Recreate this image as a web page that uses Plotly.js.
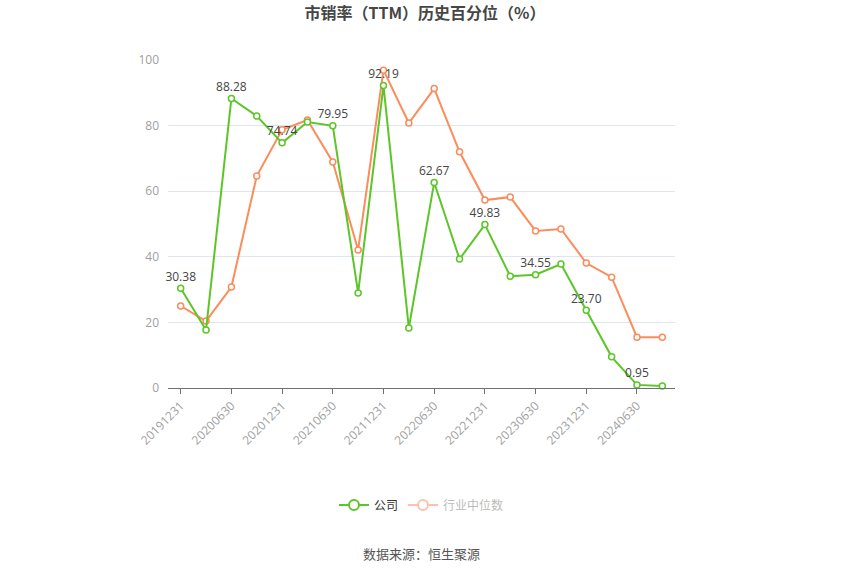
<!DOCTYPE html>
<html>
<head>
<meta charset="utf-8">
<script src="https://cdn.plot.ly/plotly-3.0.1.min.js"></script>
<style>html,body{margin:0;padding:0;background:#fff;}#chart{width:850px;height:575px;}</style>
</head>
<body>
<div id="chart"></div>
<script>
const categories = ["20191231","20200331","20200630","20200930","20201231","20210331","20210630","20210930","20211231","20220331","20220630","20220930","20221231","20230331","20230630","20230930","20231231","20240331","20240630","20240930"];
const companyValues = [30.38,17.7,88.28,82.9,74.74,81.1,79.95,29.0,92.19,18.3,62.67,39.3,49.83,34.1,34.55,37.8,23.70,9.5,0.95,0.6];
const industryValues = [25.0,20.4,30.8,64.6,78.7,81.7,68.9,42.1,96.9,80.8,91.3,72.0,57.3,58.2,47.9,48.5,38.1,33.8,15.5,15.5];
const labelIndexes = [0,2,4,6,8,10,12,14,16,18];
const tickLabels = labelIndexes.map(i => categories[i]);
const seriesNames = ["公司","行业中位数"];
const titleText = "市销率（TTM）历史百分位（%）";
const sourceText = "数据来源：恒生聚源";

const green = "#5cc628";
const orange = "#fb8c5c";
const font = "'Noto Sans CJK SC', 'Noto Sans', sans-serif";
const numFont = "'Open Sans', 'Noto Sans CJK SC', sans-serif";

const companyText = companyValues.map((v,i) => labelIndexes.includes(i) ? v.toFixed(2) : "");

const traces = [
  {
    x: categories, y: industryValues, type: "scatter", mode: "lines+markers",
    line: {color: orange, width: 2}, marker: {symbol: "circle", size: 6, color: "#fff", line: {color: orange, width: 1.5}},
    showlegend: false, hoverinfo: "skip"
  },
  {
    x: categories, y: companyValues, type: "scatter", mode: "lines+markers+text",
    text: companyText, textposition: "top center", textfont: {family: numFont, size: 12, color: "#444"},
    line: {color: green, width: 2}, marker: {symbol: "circle", size: 6, color: "#fff", line: {color: green, width: 1.5}},
    showlegend: false, hoverinfo: "skip", cliponaxis: false
  },
  {
    x: [null], y: [null], type: "scatter", mode: "lines+markers", name: seriesNames[0],
    line: {color: green, width: 2}, marker: {size: 10, color: "#fff", line: {color: green, width: 2}}
  },
  {
    x: [null], y: [null], type: "scatter", mode: "lines+markers", name: '<span style="color:#bbb">' + seriesNames[1] + '</span>',
    line: {color: "#fcc2ad", width: 2}, marker: {size: 10, color: "#fff", line: {color: "#fcc2ad", width: 2}}
  }
];

const layout = {
  width: 850, height: 575,
  margin: {l: 168, r: 175, t: 60, b: 187},
  paper_bgcolor: "#fff", plot_bgcolor: "#fff",
  font: {family: font, size: 12, color: "#999"},
  title: {text: "<b>" + titleText + "</b>", x: 0.5, xanchor: "center", y: 0.976, yanchor: "middle", yref: "container",
          font: {family: font, size: 16, color: "#464646"}},
  xaxis: {
    type: "category", categoryorder: "array", categoryarray: categories,
    range: [-0.5, categories.length - 0.5],
    tickvals: tickLabels, ticktext: tickLabels, tickangle: -45,
    ticks: "outside", ticklen: 5, tickcolor: "#6e7079", tickwidth: 1,
    showline: true, linecolor: "#6e7079", linewidth: 1,
    showgrid: false, zeroline: false,
    tickfont: {family: numFont, size: 12, color: "#a0a0a0"}
  },
  yaxis: {
    range: [0, 100], tickvals: [0,20,40,60,80,100],
    showgrid: true, gridcolor: "#e0e6f1", gridwidth: 1,
    zeroline: false, showline: false, ticks: "", ticklabelstandoff: 8,
    tickfont: {family: numFont, size: 12, color: "#a0a0a0"}
  },
  showlegend: true,
  legend: {orientation: "h", x: 0.5, xanchor: "center", y: -0.357, yanchor: "middle",
           font: {family: font, size: 12, color: "#333"}, itemwidth: 30, tracegroupgap: 0},
  annotations: [{
    text: sourceText, xref: "paper", yref: "paper", x: 0.5, y: -0.506, xanchor: "center", yanchor: "middle",
    showarrow: false, font: {family: font, size: 13, color: "#555"}
  }]
};

Plotly.newPlot("chart", traces, layout, {displayModeBar: false, staticPlot: true});
</script>
</body>
</html>
